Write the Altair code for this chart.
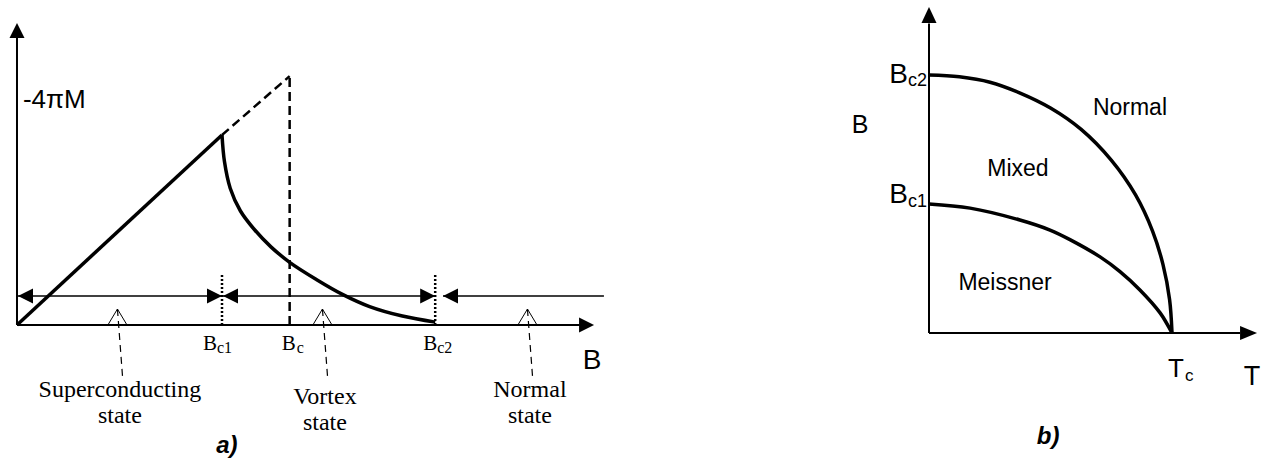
import altair as alt
import pandas as pd

SANS = "Liberation Sans"
SERIF = "Liberation Serif"

# ---------------- a) -4πM of a type-II superconductor versus applied field B ----------------
B_C1 = 1.00            # lower critical field
B_C = 1.33             # thermodynamic critical field
B_C2 = 2.04            # upper critical field
M_IDEAL_AT_BC = 1.31   # where the ideal (type-I) Meissner line would end at B_c

meissner_B = [0.00, 1.00]
meissner_M = [0.00, 1.00]

vortex_B = [1.00, 1.012, 1.04, 1.09, 1.16, 1.24, 1.33, 1.46, 1.59, 1.72, 1.88, 2.04]
vortex_M = [1.00, 0.86, 0.72, 0.60, 0.50, 0.41, 0.33, 0.24, 0.16, 0.097, 0.047, 0.015]

state_titles = ["Superconducting", "Vortex", "Normal"]
state_pointer_B = [0.49, 1.49, 2.49]

# ---------------- b) B-T phase diagram ----------------
bc2_T = [0.0, 0.125, 0.251, 0.375, 0.5, 0.625, 0.75, 0.85, 0.92, 0.963, 0.99, 1.0]
bc2_B = [1.0, 0.993, 0.972, 0.930, 0.872, 0.790, 0.670, 0.535, 0.395, 0.265, 0.13, 0.0]
bc1_T = [0.0, 0.169, 0.374, 0.498, 0.580, 0.704, 0.786, 0.868, 0.951, 1.0]
bc1_B = [0.50, 0.484, 0.438, 0.399, 0.362, 0.295, 0.238, 0.167, 0.078, 0.0]
phase_names = ["Normal", "Mixed", "Meissner"]

# ---------------- scales (axes are drawn by hand as arrows) ----------------
W_A, W_B, H = 640, 625, 459
xa = alt.Scale(domain=[-0.0829, 3.0390], nice=False, zero=False)
ya = alt.Scale(domain=[-0.7053, 1.7105], nice=False, zero=False)
xb = alt.Scale(domain=[-1.1893, 1.3827], nice=False, zero=False)
yb = alt.Scale(domain=[-0.4884, 1.2907], nice=False, zero=False)

UP = "M0,0L-0.5,1L0.5,1Z"
RIGHT = "M0,0L-1,-0.5L-1,0.5Z"
LEFT = "M0,0L1,-0.5L1,0.5Z"
CHEVRON = "M-0.6,1L0,0L0.6,1"


def X(s, f="x"):
    return alt.X(f"{f}:Q", scale=s, axis=None)


def Y(s, f="y"):
    return alt.Y(f"{f}:Q", scale=s, axis=None)


def curve(xs, ys, xv, yv, **mk):
    df = pd.DataFrame({"x": xv, "y": yv, "i": list(range(len(xv)))})
    return alt.Chart(df).mark_line(color="black", **mk).encode(
        x=X(xs), y=Y(ys), order="i:Q")


def segments(xs, ys, rows, **mk):
    df = pd.DataFrame(rows, columns=["x", "y", "x2", "y2"])
    return alt.Chart(df).mark_rule(color="black", **mk).encode(
        x=X(xs), y=Y(ys), x2="x2:Q", y2="y2:Q")


def heads(xs, ys, pts, shape, size, filled=True, **mk):
    df = pd.DataFrame(pts, columns=["x", "y"])
    return alt.Chart(df).mark_point(
        shape=shape, size=size, filled=filled, color="black", opacity=1, **mk
    ).encode(x=X(xs), y=Y(ys))


def words(xs, ys, rows, font, size, align="center", dx=0, dy=0, **mk):
    df = pd.DataFrame(rows, columns=["x", "y", "t"])
    return alt.Chart(df).mark_text(
        font=font, fontSize=size, align=align, baseline="alphabetic",
        color="black", dx=dx, dy=dy, **mk
    ).encode(x=X(xs), y=Y(ys), text="t:N")


# ---------------- panel a ----------------
ARROW_M = 0.153          # height of the state-range arrows
NORMAL_START = 2.078     # the normal-state arrow starts just past B_c2
caption_M = [-0.379, -0.414, -0.379]   # baseline of each state's caption
a_layers = [
    segments(xa, ya, [(0, 0, 0, 1.52), (0, 0, 2.745, 0)], strokeWidth=2),
    heads(xa, ya, [(0, 1.589)], UP, 900),
    heads(xa, ya, [(2.815, 0)], RIGHT, 900),
    segments(xa, ya, [(0, ARROW_M, B_C2, ARROW_M), (NORMAL_START, ARROW_M, 2.863, ARROW_M)],
             strokeWidth=1.5),
    heads(xa, ya, [(B_C1, ARROW_M), (B_C2, ARROW_M)], RIGHT, 900),
    heads(xa, ya, [(0.005, ARROW_M), (B_C1 + 0.005, ARROW_M), (NORMAL_START, ARROW_M)], LEFT, 900),
    segments(xa, ya, [(B_C1, 0, B_C1, 0.274), (B_C2, 0, B_C2, 0.274)],
             strokeDash=[2, 2], strokeWidth=2.5),
    segments(xa, ya, [(B_C1, 1.0, B_C, M_IDEAL_AT_BC), (B_C, 0, B_C, M_IDEAL_AT_BC)],
             strokeDash=[9, 5], strokeWidth=2.5),
    curve(xa, ya, meissner_B, meissner_M, strokeWidth=3.5),
    curve(xa, ya, vortex_B, vortex_M, strokeWidth=3.5, interpolate="catmull-rom"),
    heads(xa, ya, [(b, 0.084) for b in state_pointer_B], CHEVRON, 1024,
          filled=False, strokeWidth=1),
    segments(xa, ya, [(b, 0.084, b + 0.025, -0.274) for b in state_pointer_B],
             strokeDash=[7, 5], strokeWidth=1.2),
    words(xa, ya, [(b + 0.012, m, t)
                   for b, m, t in zip(state_pointer_B, caption_M, state_titles)],
          SERIF, 24),
    words(xa, ya, [(b + 0.012, m - 0.137, "state")
                   for b, m in zip(state_pointer_B, caption_M)], SERIF, 24),
    # critical-field labels under the B axis
    words(xa, ya, [(B_C1, 0, "B")], SERIF, 21, align="right", dx=-5, dy=25),
    words(xa, ya, [(B_C1, 0, "c1")], SERIF, 16, align="left", dx=-5, dy=28),
    words(xa, ya, [(B_C, 0, "B")], SERIF, 21, align="right", dx=6, dy=25),
    words(xa, ya, [(B_C, 0, "c")], SERIF, 16, align="left", dx=7, dy=28),
    words(xa, ya, [(B_C2, 0, "B")], SERIF, 21, align="right", dx=2, dy=25),
    words(xa, ya, [(B_C2, 0, "c2")], SERIF, 16, align="left", dx=2, dy=28),
    words(xa, ya, [(0.029, 1.142, "-4πM")], SANS, 26, align="left"),
    words(xa, ya, [(2.805, -0.232, "B")], SANS, 28),
    words(xa, ya, [(1.024, -0.674, "a)")], SANS, 24, fontWeight="bold", fontStyle="italic"),
]
panel_a = alt.layer(*a_layers).properties(width=W_A, height=H)

# ---------------- panel b ----------------
b_layers = [
    segments(xb, yb, [(0, 0, 0, 1.20), (0, 0, 1.28, 0)], strokeWidth=2),
    heads(xb, yb, [(0, 1.264)], "M0,0L-0.47,1L0.47,1Z", 1024),
    heads(xb, yb, [(1.35, 0)], "M0,0L-1,-0.41L-1,0.41Z", 1156),
    curve(xb, yb, bc2_T, bc2_B, strokeWidth=3.5, interpolate="catmull-rom"),
    curve(xb, yb, bc1_T, bc1_B, strokeWidth=3.5, interpolate="catmull-rom"),
    words(xb, yb, [(0.827, 0.845, phase_names[0]), (0.366, 0.609, phase_names[1]),
                   (0.313, 0.167, phase_names[2])], SANS, 23),
    words(xb, yb, [(0, bc2_B[0], "B")], SANS, 28, align="right", dx=-21, dy=8),
    words(xb, yb, [(0, bc2_B[0], "c2")], SANS, 18, align="right", dx=-2, dy=11),
    words(xb, yb, [(0, bc1_B[0], "B")], SANS, 28, align="right", dx=-21, dy=-1),
    words(xb, yb, [(0, bc1_B[0], "c1")], SANS, 18, align="right", dx=-2, dy=3),
    words(xb, yb, [(-0.284, 0.775, "B")], SANS, 25),
    words(xb, yb, [(1.0, 0, "T")], SANS, 26, align="left", dx=-4, dy=44),
    words(xb, yb, [(1.0, 0, "c")], SANS, 17, align="left", dx=13, dy=48),
    words(xb, yb, [(1.329, -0.2016, "T")], SANS, 27),
    words(xb, yb, [(0.49, -0.430, "b)")], SANS, 24, fontWeight="bold", fontStyle="italic"),
]
panel_b = alt.layer(*b_layers).properties(width=W_B, height=H)

chart = (
    alt.hconcat(panel_a, panel_b, spacing=0, bounds="flush")
    .properties(padding=0)
    .configure_view(strokeWidth=0)
)

chart.save("out.html", embed_options={"renderer": "svg", "actions": False})
